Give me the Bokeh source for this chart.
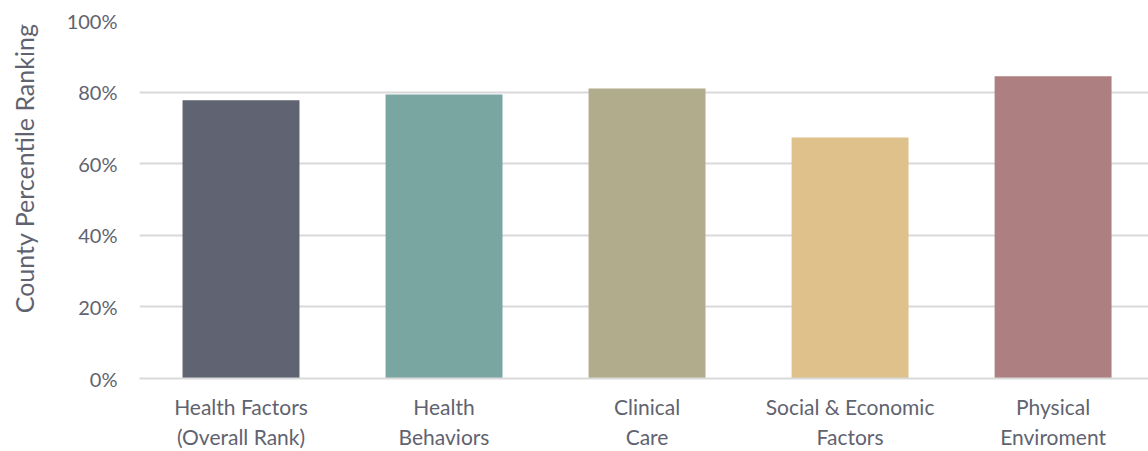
from bokeh.plotting import figure
from bokeh.models import Range1d, ColumnDataSource, FixedTicker, NumeralTickFormatter, Title
from bokeh.embed import file_html
from bokeh.resources import INLINE

categories = ["Health Factors\n(Overall Rank)", "Health\nBehaviors", "Clinical\nCare",
              "Social & Economic\nFactors", "Physical\nEnviroment"]
values = [0.777, 0.793, 0.810, 0.673, 0.844]
colors = ["#5f6372", "#7aa6a2", "#b1ac8c", "#dfc18c", "#ad7f80"]
y_ticks = [0, 0.2, 0.4, 0.6, 0.8, 1.0]
y_title = "County Percentile Ranking"

xs = list(range(len(categories)))
src = ColumnDataSource(dict(x=xs, top=values, color=colors))

p = figure(width=1148, height=451, output_backend="svg", toolbar_location=None,
           x_range=Range1d(-0.5, 4.47), y_range=Range1d(0, 1.0),
           min_border_left=0, min_border_right=0, min_border_top=20, min_border_bottom=73)
p.outline_line_color = None
p.vbar(x="x", top="top", width=0.576, bottom=0, color="color", source=src, line_color=None)

FONT = "Lato"
TXT = "#5f6370"

p.xaxis.ticker = FixedTicker(ticks=xs)
p.xaxis.major_label_overrides = {i: c for i, c in enumerate(categories)}
p.xaxis.major_label_text_font = FONT
p.xaxis.major_label_text_font_size = "21px"
p.xaxis.major_label_text_color = TXT
p.xaxis.major_tick_line_color = None
p.xaxis.minor_tick_line_color = None
p.xaxis.axis_line_color = "#d9d9d9"
p.xaxis.axis_line_width = 2
p.xaxis.major_label_standoff = 9
p.xgrid.grid_line_color = None

p.yaxis.ticker = FixedTicker(ticks=y_ticks)
p.yaxis.formatter = NumeralTickFormatter(format="0%")
p.yaxis.major_label_text_font = FONT
p.yaxis.major_label_text_font_size = "20px"
p.yaxis.major_label_text_color = TXT
p.yaxis.major_tick_line_color = None
p.yaxis.minor_tick_line_color = None
p.yaxis.axis_line_color = None
p.yaxis.major_label_standoff = 16
p.yaxis.axis_label = " "
p.yaxis.axis_label_text_font_size = "14px"
p.yaxis.axis_label_standoff = 0
p.ygrid.grid_line_color = "#d9d9d9"
p.ygrid.grid_line_width = 2

ttl = Title(text=y_title, align="right", offset=3, standoff=12,
            text_font=FONT, text_font_size="25px", text_font_style="normal",
            text_color=TXT)
p.add_layout(ttl, "left")

open("out.html", "w").write(file_html(p, INLINE))
